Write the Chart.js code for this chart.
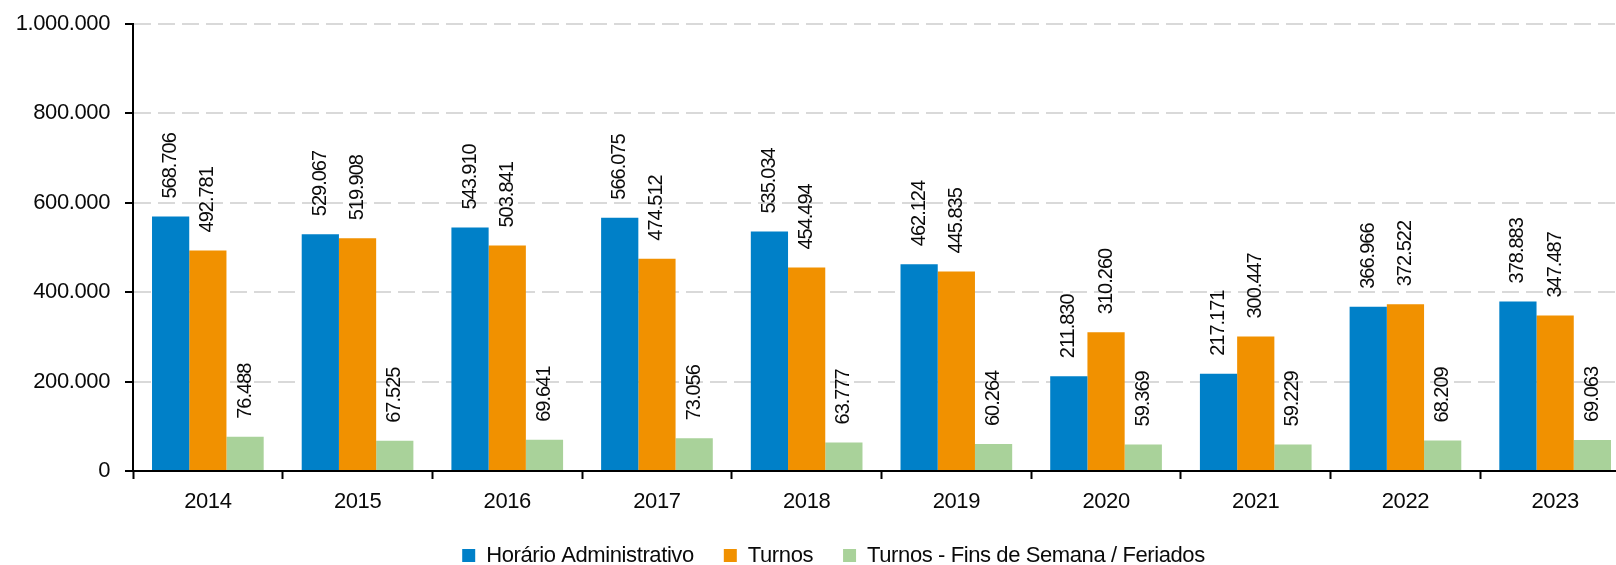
<!DOCTYPE html>
<html>
<head>
<meta charset="utf-8">
<script src="https://cdn.jsdelivr.net/npm/chart.js@4/dist/chart.umd.min.js"></script>
<style>
  html, body { margin: 0; padding: 0; background: #ffffff; overflow: hidden; }
  #wrap { width: 1616px; height: 565px; overflow: hidden; position: relative; }
  canvas { display: block; }
</style>
</head>
<body>
<div id="wrap"><canvas id="chart" width="1640" height="588"></canvas></div>
<script>
// Categories (years)
const years = ['2014', '2015', '2016', '2017', '2018', '2019', '2020', '2021', '2022', '2023'];

// Series values
const horarioAdministrativo = [568706, 529067, 543910, 566075, 535034, 462124, 211830, 217171, 366966, 378883];
const turnos = [492781, 519908, 503841, 474512, 454494, 445835, 310260, 300447, 372522, 347487];
const turnosFinsSemana = [76488, 67525, 69641, 73056, 63777, 60264, 59369, 59229, 68209, 69063];

// Series names and colours
const seriesNames = ['Horário Administrativo', 'Turnos', 'Turnos - Fins de Semana / Feriados'];
const seriesColors = ['#0080c8', '#f19100', '#a9d29a'];

// Value-axis tick values
const yTickValues = [0, 200000, 400000, 600000, 800000, 1000000];

const FONT = "'Liberation Sans', Arial, sans-serif";
const TEXT_COLOR = '#0a0a0a';
const LEGEND_SIZE = 22;
const LEGEND_GAP = 30;
const fmt = v => String(v).replace(/\B(?=(\d{3})+(?!\d))/g, '.');

// Tighter lettering for axis and legend text
const spacing = {
  id: 'spacing',
  beforeUpdate(chart) { chart.ctx.letterSpacing = '-0.4px'; },
  beforeDraw(chart) { chart.ctx.letterSpacing = '-0.4px'; }
};

// Legend row sits low under the axis labels, centred on the visible page width
const legendPlacement = {
  id: 'legendPlacement',
  afterLayout(chart) {
    const lg = chart.legend;
    const h = lg.bottom - lg.top;
    const top = 555.5 - LEGEND_GAP - LEGEND_SIZE / 2;
    lg.top = top; lg.bottom = top + h;
    lg.left += 18.5; lg.right += 18.5;
  }
};

// Rotated value labels above each bar
const valueLabels = {
  id: 'valueLabels',
  afterDatasetsDraw(chart) {
    const ctx = chart.ctx;
    ctx.save();
    ctx.letterSpacing = '-1px';
    ctx.font = "20px " + FONT;
    ctx.fillStyle = TEXT_COLOR;
    ctx.textAlign = 'left';
    ctx.textBaseline = 'middle';
    chart.data.datasets.forEach((ds, di) => {
      const meta = chart.getDatasetMeta(di);
      meta.data.forEach((bar, i) => {
        ctx.save();
        ctx.translate(bar.x, bar.y - 18);
        ctx.rotate(-Math.PI / 2);
        ctx.fillText(fmt(ds.data[i]), 0, 0);
        ctx.restore();
      });
    });
    ctx.restore();
  }
};

const seriesData = [horarioAdministrativo, turnos, turnosFinsSemana];

new Chart(document.getElementById('chart'), {
  type: 'bar',
  data: {
    labels: years,
    datasets: seriesData.map((d, i) => ({
      label: seriesNames[i],
      data: d,
      backgroundColor: seriesColors[i],
      borderWidth: 0,
      categoryPercentage: 0.746,
      barPercentage: 1.0
    }))
  },
  options: {
    responsive: false,
    animation: false,
    devicePixelRatio: 1,
    layout: { padding: { left: 0, right: 10, top: 23.5, bottom: 0 } },
    plugins: {
      tooltip: { enabled: false },
      legend: {
        position: 'bottom',
        labels: {
          boxWidth: 13,
          boxHeight: 13,
          padding: LEGEND_GAP,
          color: TEXT_COLOR,
          font: { family: FONT, size: LEGEND_SIZE }
        }
      }
    },
    scales: {
      x: {
        grid: {
          offset: true,
          drawOnChartArea: false,
          drawTicks: true,
          tickLength: 8,
          tickColor: '#000000',
          tickWidth: 2
        },
        border: { display: true, color: '#000000', width: 2 },
        ticks: {
          color: TEXT_COLOR,
          padding: 10,
          maxRotation: 0,
          font: { family: FONT, size: 22 }
        },
        afterFit(scale) {
          // x axis band: from the plot bottom down to the legend slot
          scale.height = 45 + (40 - LEGEND_GAP);
        }
      },
      y: {
        min: 0,
        max: 1000000,
        afterBuildTicks(scale) { scale.ticks = yTickValues.map(v => ({ value: v })); },
        grid: {
          color: '#d9d9d9',
          lineWidth: 2,
          drawTicks: true,
          tickLength: 8,
          tickColor: '#000000',
          tickWidth: 2,
          tickBorderDash: []
        },
        border: { display: true, color: '#000000', width: 2, dash: [17, 7] },
        ticks: {
          color: TEXT_COLOR,
          padding: 15,
          font: { family: FONT, size: 22 },
          callback: v => fmt(v)
        },
        afterFit(scale) {
          scale.width = 133;
          scale.paddingTop = 0;
          scale.paddingBottom = 0;
        }
      }
    }
  },
  plugins: [spacing, legendPlacement, valueLabels]
});
</script>
</body>
</html>
